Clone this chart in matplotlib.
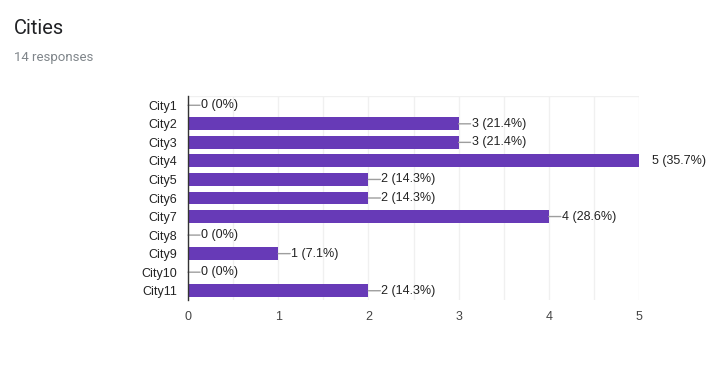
import matplotlib
matplotlib.use("Agg")
import matplotlib.pyplot as plt
import numpy as np

cities = ["City1", "City2", "City3", "City4", "City5", "City6",
          "City7", "City8", "City9", "City10", "City11"]
counts = [0, 3, 3, 5, 2, 2, 4, 0, 1, 0, 2]
percents = ["0%", "21.4%", "21.4%", "35.7%", "14.3%", "14.3%",
            "28.6%", "0%", "7.1%", "0%", "14.3%"]
x_ticks = [0, 1, 2, 3, 4, 5]

BAR = "#673ab7"
FONT = "Liberation Sans"
XMAX = 5

fig = plt.figure(figsize=(7.25, 3.66), dpi=100)
ax = fig.add_axes([188 / 725, 1 - 300 / 366, 451 / 725, 204 / 366])

y = np.arange(len(cities))
ax.barh(y, counts, height=0.7, color=BAR, zorder=3)
ax.set_ylim(len(cities) - 0.5, -0.5)
ax.set_xlim(0, XMAX)

# light grid every half unit
for gx in np.arange(0, XMAX + 0.01, 0.5):
    ax.axvline(gx, color="#f0f0f0", lw=1, zorder=1)
ax.axhline(-0.5, color="#f0f0f0", lw=1, zorder=1)

# value labels with short leader lines (none past the plot edge)
for yi, c, p in zip(y, counts, percents):
    if c < XMAX:
        ax.annotate("", xy=(c, yi), xytext=(12, 0), textcoords="offset pixels",
                    arrowprops=dict(arrowstyle="-", color="#9e9e9e", lw=1,
                                    shrinkA=0, shrinkB=0),
                    annotation_clip=False, zorder=4)
    ax.annotate(f"{c} ({p})", xy=(c, yi), xytext=(13, 0),
                textcoords="offset pixels", ha="left", va="center",
                fontsize=9, family=FONT, color="#222222",
                annotation_clip=False)

ax.set_yticks(y)
ax.set_yticklabels(cities, fontsize=9, family=FONT, color="#222222")
ax.set_xticks(x_ticks)
ax.set_xticklabels([str(t) for t in x_ticks], fontsize=9, family=FONT,
                   color="#444444")
ax.tick_params(axis="both", length=0)
ax.tick_params(axis="y", pad=8)
ax.tick_params(axis="x", pad=8)
for s in ["top", "right", "bottom"]:
    ax.spines[s].set_visible(False)
ax.spines["left"].set_color("#333333")
ax.spines["left"].set_linewidth(1)
ax.spines["left"].set_zorder(5)

fig.text(14 / 725, 1 - 28 / 366, "Cities", fontsize=14.5, family="Roboto",
         color="#202124", va="center", ha="left")
fig.text(14 / 725, 1 - 57 / 366, "14 responses", fontsize=9.5,
         family="Roboto", color="#80868b", va="center", ha="left")

fig.savefig("out.png", dpi=100)
